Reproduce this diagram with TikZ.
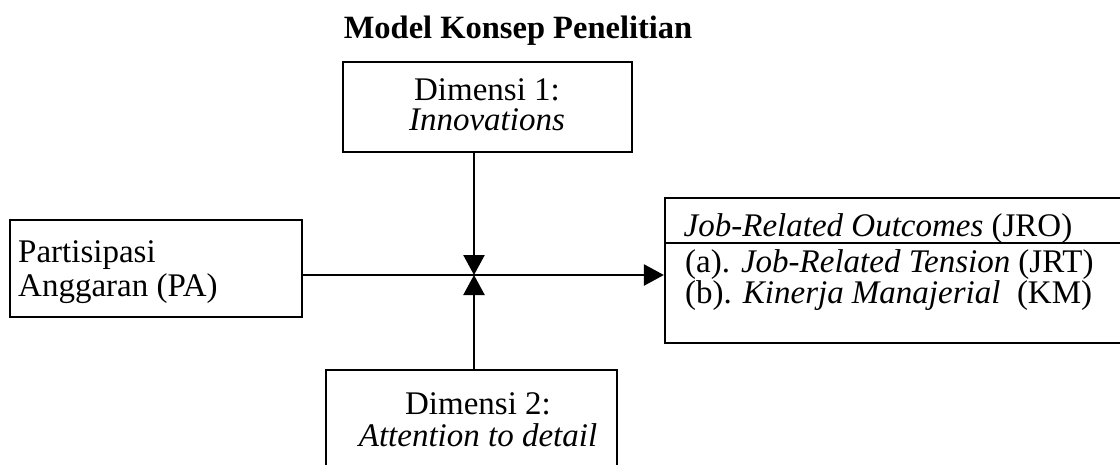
\documentclass[tikz,border=0pt]{standalone}
\usepackage{fontspec}
\setmainfont{Liberation Serif}
\usetikzlibrary{arrows.meta}
\begin{document}
\begin{tikzpicture}[x=1pt,y=-1pt,
  frame/.style={draw, line width=2.2pt, inner sep=0pt},
  conn/.style={line width=2.4pt, -{Triangle[length=20pt,width=21pt]}},
  txt/.style={inner sep=0pt, font=\fontsize{33}{36}\selectfont},
  ttl/.style={inner sep=0pt, font=\fontsize{32.5}{36}\selectfont\bfseries}]
\useasboundingbox (0,0) rectangle (1120,464);
\clip (0,0) rectangle (1120,464);

% title
\node[ttl, anchor=base] (title) at (518,38) {Model Konsep Penelitian};

% boxes
\node[frame, minimum width=289pt, minimum height=90pt] (dim1) at (487.5,107) {};
\node[frame, minimum width=292pt, minimum height=97pt] (pa) at (156,268.5) {};
\node[frame, minimum width=535pt, minimum height=145pt] (jro) at (932.5,270.5) {};
\node[frame, minimum width=291pt, minimum height=150pt] (dim2) at (471.5,445) {};

% box texts
\node[txt, anchor=base] (d1a) at (487,100) {Dimensi 1:};
\node[txt, anchor=base] (d1b) at (487,130) {\textit{Innovations}};
\node[txt, anchor=base west] (paa) at (18,262) {Partisipasi};
\node[txt, anchor=base west] (pab) at (18,296) {Anggaran (PA)};
\node[txt, anchor=base] (jroa) at (878,236) {\textit{Job-Related Outcomes} (JRO)};
\node[txt, anchor=base west] (jrob) at (685,272) {(a). \textit{Job-Related Tension} (JRT)};
\node[txt, anchor=base west] (jroc) at (685,303) {(b). \textit{Kinerja Manajerial}\ \ (KM)};
\node[txt, anchor=base] (d2a) at (478,414) {Dimensi 2:};
\node[txt, anchor=base] (d2b) at (478,446) {\textit{Attention to detail}};

% separator under the heading of the outcome box
\coordinate (sepy) at (0,243);
\draw[line width=2.2pt] (jro.west |- sepy) -- (jro.east |- sepy);

% connectors
\coordinate (mid) at (474,275);
\draw[line width=2.4pt] (pa.east |- mid) -- (mid);
\draw[conn] (mid) -- (jro.west |- mid);
\draw[conn] (dim1.south -| mid) -- (mid);
\draw[conn] (dim2.north -| mid) -- (mid);
\end{tikzpicture}
\end{document}
